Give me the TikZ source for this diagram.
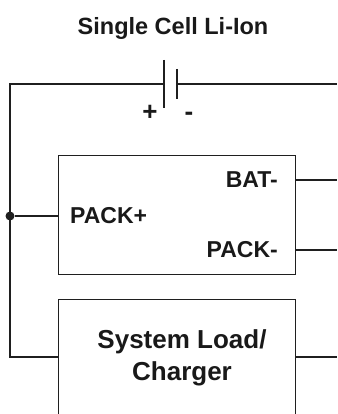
\documentclass[tikz,border=0pt]{standalone}
\usepackage{fontspec}
\setmainfont{Liberation Sans}
\begin{document}
\begin{tikzpicture}[x=1pt,y=-1pt,
  wire/.style={line width=1.3pt, draw=black!88},
  box/.style={draw=black!88, line width=1.3pt, rectangle, inner sep=0pt},
  lbl/.style={font=\bfseries\fontsize{23}{25}\selectfont, text=black!90, inner sep=0pt}]
\useasboundingbox (0,0) rectangle (337,414);
\clip (0,0) rectangle (337,414);
% title
\node[lbl, font=\bfseries\fontsize{23.5}{25}\selectfont] (title) at (173,28) {Single Cell Li-Ion};
% battery
\coordinate (pp) at (164,84);
\coordinate (pn) at (177,84);
\coordinate (tl) at (10,84);
\coordinate (tr) at (337,84);
\draw[wire] (164,60) -- (164,108);
\draw[wire] (177,69) -- (177,99);
\node[lbl, font=\bfseries\fontsize{26}{28}\selectfont] (plus) at (150,112.5) {+};
\node[lbl, font=\bfseries\fontsize{26}{28}\selectfont] (minus) at (189,116) {-};
% boxes
\node[box, minimum width=237pt, minimum height=119pt, anchor=north west] (pack) at (58,155) {};
\node[box, minimum width=237pt, minimum height=140pt, anchor=north west] (load) at (58,299) {};
\node[lbl, anchor=west] (packp) at (70,216) {PACK+};
\node[lbl, anchor=east] (batm) at (278,180) {BAT-};
\node[lbl, anchor=east] (packm) at (278,250) {PACK-};
\node[lbl, align=center, font=\bfseries\fontsize{26}{32}\selectfont] (loadtxt) at (182,358) {System Load/\\Charger};
% junction
\node[circle, fill=black!88, inner sep=0pt, minimum size=9pt] (jn) at (10,216) {};
\coordinate (ll) at (10,357);
\coordinate (lr) at (337,357);
\coordinate (r1) at (337,180);
\coordinate (r2) at (337,250);
% wires
\draw[wire] (pp) -- (tl) -- (ll) -- (load.west |- ll);
\draw[wire] (pn) -- (tr);
\draw[wire] (jn) -- (pack.west |- jn);
\draw[wire] (pack.east |- r1) -- (r1);
\draw[wire] (pack.east |- r2) -- (r2);
\draw[wire] (load.east |- lr) -- (lr);
\end{tikzpicture}
\end{document}
